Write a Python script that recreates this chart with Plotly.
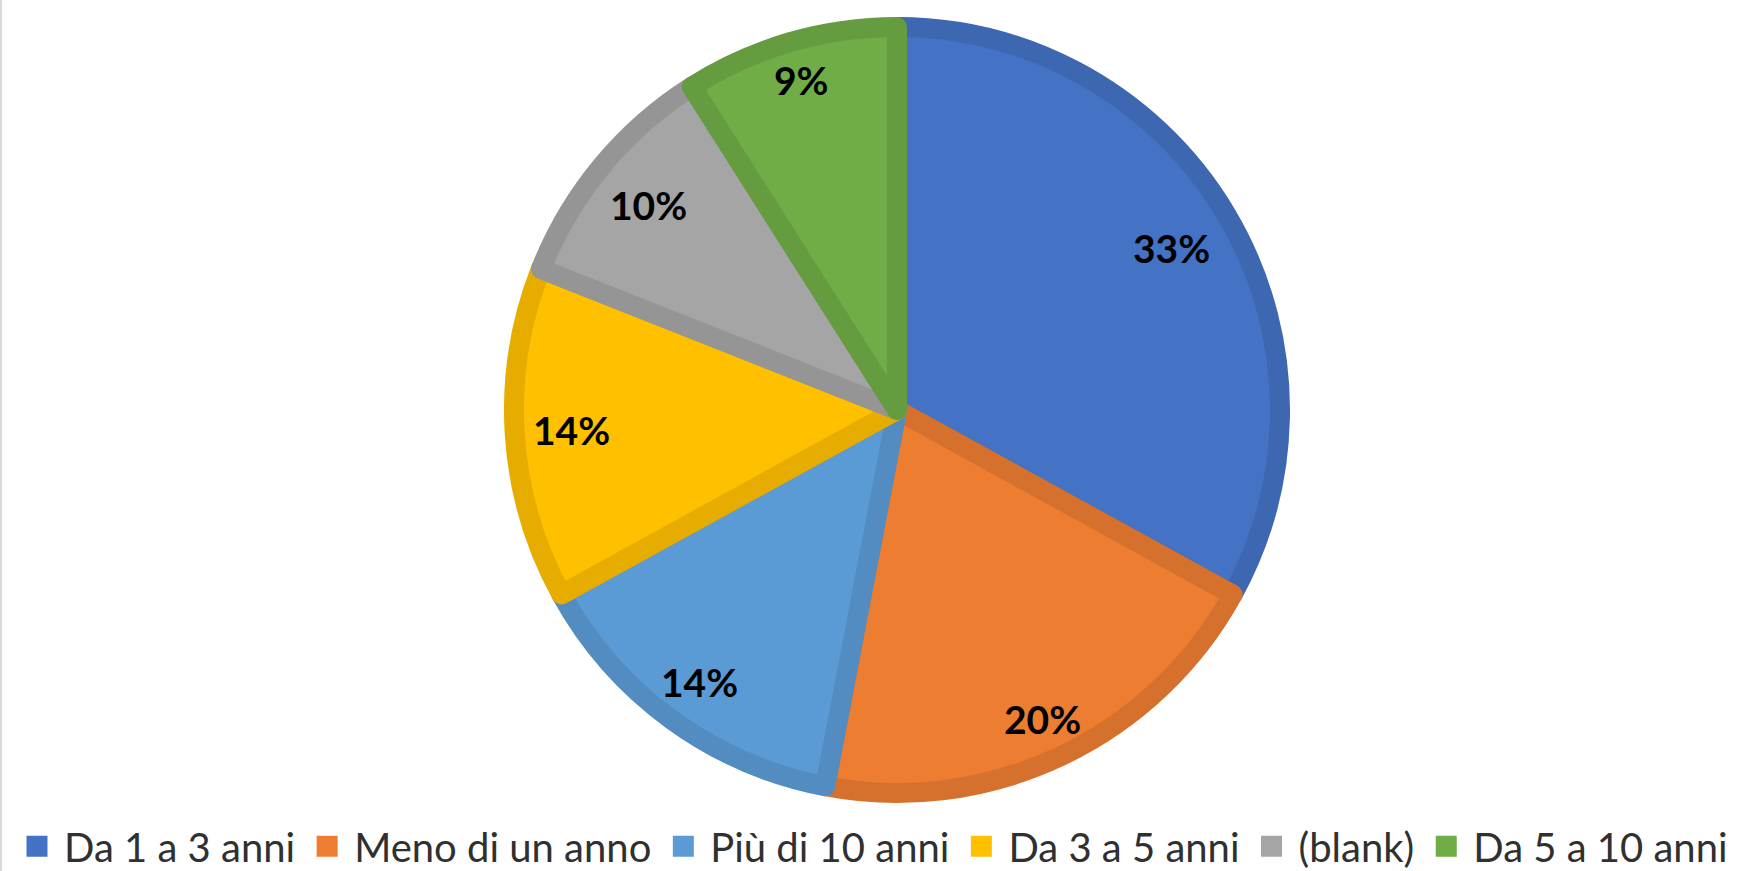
import math
import plotly.graph_objects as go

# Years of seniority: share of respondents per bracket
categories = ["Da 1 a 3 anni", "Meno di un anno", "Più di 10 anni",
              "Da 3 a 5 anni", "(blank)", "Da 5 a 10 anni"]
values = [33, 20, 14, 14, 10, 9]

fill_colors = ["#4472C4", "#ED7D31", "#5B9BD5", "#FFC000", "#A5A5A5", "#70AD47"]
edge_colors = ["#3D67B0", "#D5712C", "#528CC0", "#E6AD00", "#959595", "#659C40"]

# radial placement of each percentage label, as a fraction of the radius
label_r = [0.81, 0.87, 0.855, 0.83, 0.82, 0.875]

W, H = 1737, 871
cx, cy = 897, 410          # pie centre in pixels (from top-left)
edge_w = 20                # slice outline width
r_outer = 393              # outer radius including the outline
r = r_outer - edge_w / 2   # radius of the pie path itself

fig = go.Figure()

fig.add_trace(go.Pie(
    labels=categories,
    values=values,
    sort=False,
    direction="clockwise",
    rotation=0,
    marker=dict(colors=fill_colors, line=dict(color=edge_colors, width=edge_w)),
    textinfo="none",
    hoverinfo="label+percent",
    showlegend=False,
    domain=dict(x=[(cx - r) / W, (cx + r) / W],
                y=[(H - cy - r) / H, (H - cy + r) / H]),
))

# legend entries with larger square swatches
for name, col in zip(categories, fill_colors):
    fig.add_trace(go.Scatter(
        x=[None], y=[None], mode="markers", name=name,
        marker=dict(symbol="square", size=16, color=col,
                    line=dict(color=col, width=5)),
        hoverinfo="skip", showlegend=True,
    ))

# percentage labels placed along each slice's bisector
total = sum(values)
annotations = []
cum = 0.0
for v, f in zip(values, label_r):
    mid = (cum + v / 2) / total * 2 * math.pi
    cum += v
    px = cx + f * r_outer * math.sin(mid)
    py = cy - f * r_outer * math.cos(mid)
    annotations.append(dict(
        x=px / W, y=1 - py / H, xref="paper", yref="paper",
        text=f"{round(v / total * 100)}%", showarrow=False,
        xanchor="center", yanchor="middle",
        font=dict(family="Lato", size=39, color="#000000", weight="bold"),
    ))

fig.update_layout(
    width=W, height=H,
    margin=dict(l=0, r=0, t=0, b=0, autoexpand=False),
    paper_bgcolor="white",
    plot_bgcolor="white",
    xaxis=dict(visible=False),
    yaxis=dict(visible=False),
    annotations=annotations,
    showlegend=True,
    legend=dict(
        orientation="h",
        x=10 / W, xanchor="left",
        y=-0.009, yanchor="bottom",
        itemwidth=44,
        bgcolor="rgba(0,0,0,0)",
        font=dict(family="Lato", size=40, color="#303030"),
        itemclick=False, itemdoubleclick=False,
    ),
    shapes=[dict(type="line", xref="paper", yref="paper",
                 x0=0.0006, x1=0.0006, y0=0, y1=1,
                 line=dict(color="#D9D9D9", width=2))],
)

fig.write_html("out.html")
